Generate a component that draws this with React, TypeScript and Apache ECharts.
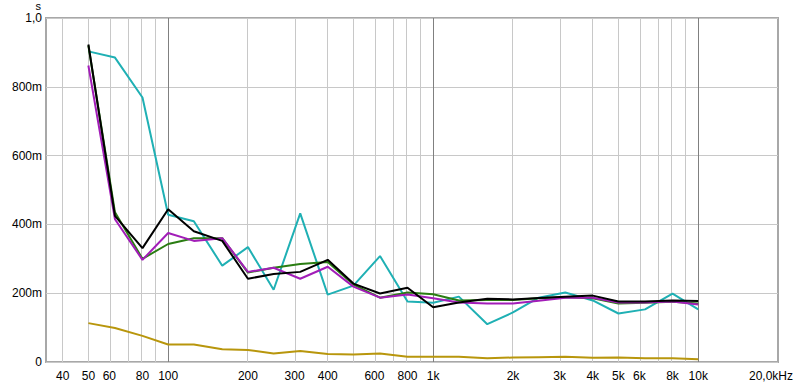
import React, { useEffect, useRef } from "react";
import * as echarts from "echarts";

const freqs = [50, 63, 80, 100, 125, 160, 200, 250, 315, 400, 500, 630, 800, 1000, 1250, 1600, 2000, 2500, 3150, 4000, 5000, 6300, 8000, 10000];

const teal = [0.903, 0.885, 0.769, 0.428, 0.409, 0.28, 0.334, 0.21, 0.432, 0.196, 0.222, 0.308, 0.176, 0.172, 0.19, 0.11, 0.144, 0.187, 0.202, 0.179, 0.141, 0.153, 0.199, 0.153];
const green = [0.92, 0.435, 0.3, 0.343, 0.36, 0.36, 0.26, 0.274, 0.285, 0.291, 0.225, 0.187, 0.202, 0.197, 0.179, 0.18, 0.18, 0.185, 0.188, 0.185, 0.17, 0.172, 0.175, 0.17];
const magenta = [0.862, 0.415, 0.297, 0.375, 0.352, 0.36, 0.262, 0.274, 0.242, 0.277, 0.219, 0.187, 0.196, 0.185, 0.173, 0.17, 0.17, 0.178, 0.187, 0.187, 0.173, 0.173, 0.176, 0.167];
const black = [0.923, 0.425, 0.331, 0.444, 0.38, 0.352, 0.242, 0.256, 0.262, 0.297, 0.228, 0.199, 0.216, 0.159, 0.173, 0.184, 0.182, 0.186, 0.19, 0.193, 0.176, 0.176, 0.179, 0.177];
const gold = [0.113, 0.099, 0.076, 0.051, 0.051, 0.037, 0.035, 0.025, 0.032, 0.023, 0.022, 0.025, 0.015, 0.015, 0.015, 0.011, 0.013, 0.014, 0.015, 0.012, 0.013, 0.011, 0.011, 0.008];

const xTickFreqs = [40, 50, 60, 80, 100, 200, 300, 400, 600, 800, 1000, 2000, 3000, 4000, 5000, 6000, 8000, 10000, 20000];
const xTickLabels = ["40", "50", "60", "80", "100", "200", "300", "400", "600", "800", "1k", "2k", "3k", "4k", "5k", "6k", "8k", "10k", "20,0kHz"];
const gridFreqs = [40, 50, 60, 70, 80, 90, 100, 200, 300, 400, 500, 600, 700, 800, 900, 1000, 2000, 3000, 4000, 5000, 6000, 7000, 8000, 9000, 10000];
const majorGridFreqs = [100, 1000, 10000];
const yTickValues = [0, 0.2, 0.4, 0.6, 0.8, 1.0];
const yTickLabels = ["0", "200m", "400m", "600m", "800m", "1,0"];

const FONT = "'Liberation Sans', Arial, sans-serif";

export default function App() {
  const ref = useRef<HTMLDivElement>(null);
  useEffect(() => {
    if (!ref.current) return;
    const chart = echarts.init(ref.current, undefined, { renderer: "svg" });
    const mk = (vals: number[]) => freqs.map((f, i) => [Math.log10(f), vals[i]]);
    const lineSeries = (name: string, vals: number[], color: string) => ({
      name,
      type: "line",
      data: mk(vals),
      symbol: "none",
      z: 3,
      lineStyle: { color, width: 2 },
      silent: true,
    });
    chart.setOption({
      animation: false,
      backgroundColor: "#ffffff",
      grid: {
        left: 46,
        right: 22,
        top: 15,
        bottom: 20,
        show: true,
        borderColor: "#a8a8a8",
        borderWidth: 2,
        backgroundColor: "#ffffff",
      },
      xAxis: {
        type: "value",
        min: Math.log10(34.6),
        max: Math.log10(20000),
        axisLine: { show: false },
        axisTick: { show: false },
        splitLine: { show: false },
        axisLabel: {
          customValues: xTickFreqs.map((f) => Math.log10(f)),
          margin: 8,
          color: "#000",
          fontFamily: FONT,
          fontSize: 12,
          formatter: (v: number) => {
            let best = 0;
            let bd = Infinity;
            xTickFreqs.forEach((f, i) => {
              const d = Math.abs(Math.log10(f) - v);
              if (d < bd) { bd = d; best = i; }
            });
            if (best === xTickFreqs.length - 1) return "{last|" + xTickLabels[best] + "}";
            return xTickLabels[best];
          },
          rich: {
            last: { padding: [0, 14, 0, 0], fontFamily: FONT, fontSize: 12, color: "#000" },
          },
        },
      },
      yAxis: {
        type: "value",
        min: 0,
        max: 1,
        interval: 0.2,
        name: "s",
        nameLocation: "end",
        nameGap: 7,
        nameTextStyle: {
          align: "right",
          verticalAlign: "bottom",
          padding: [0, 5, 0, 0],
          color: "#000",
          fontFamily: FONT,
          fontSize: 11,
        },
        axisLine: { show: false },
        axisTick: { show: false },
        splitLine: { show: true, lineStyle: { color: "#c8c8c8", width: 1 } },
        axisLabel: {
          margin: 4,
          color: "#000",
          fontFamily: FONT,
          fontSize: 12,
          formatter: (v: number) => {
            const i = yTickValues.findIndex((t) => Math.abs(t - v) < 1e-6);
            return i >= 0 ? yTickLabels[i] : "";
          },
        },
      },
      series: [
        {
          name: "grid",
          type: "line",
          data: [],
          silent: true,
          z: 1,
          markLine: {
            silent: true,
            symbol: "none",
            z: 1,
            label: { show: false },
            animation: false,
            data: gridFreqs.map((f) => ({
              xAxis: Math.log10(f),
              lineStyle: {
                color: majorGridFreqs.includes(f) ? "#808080" : "#c8c8c8",
                width: 1,
                type: "solid",
              },
            })),
          },
        },
        lineSeries("gold", gold, "#b8960c"),
        lineSeries("teal", teal, "#1fb0b4"),
        lineSeries("green", green, "#2a7d12"),
        lineSeries("magenta", magenta, "#a21db8"),
        lineSeries("black", black, "#000000"),
      ],
    });
    return () => chart.dispose();
  }, []);
  return <div ref={ref} style={{ width: 800, height: 382, position: "absolute", left: 0, top: 0 }} />;
}
